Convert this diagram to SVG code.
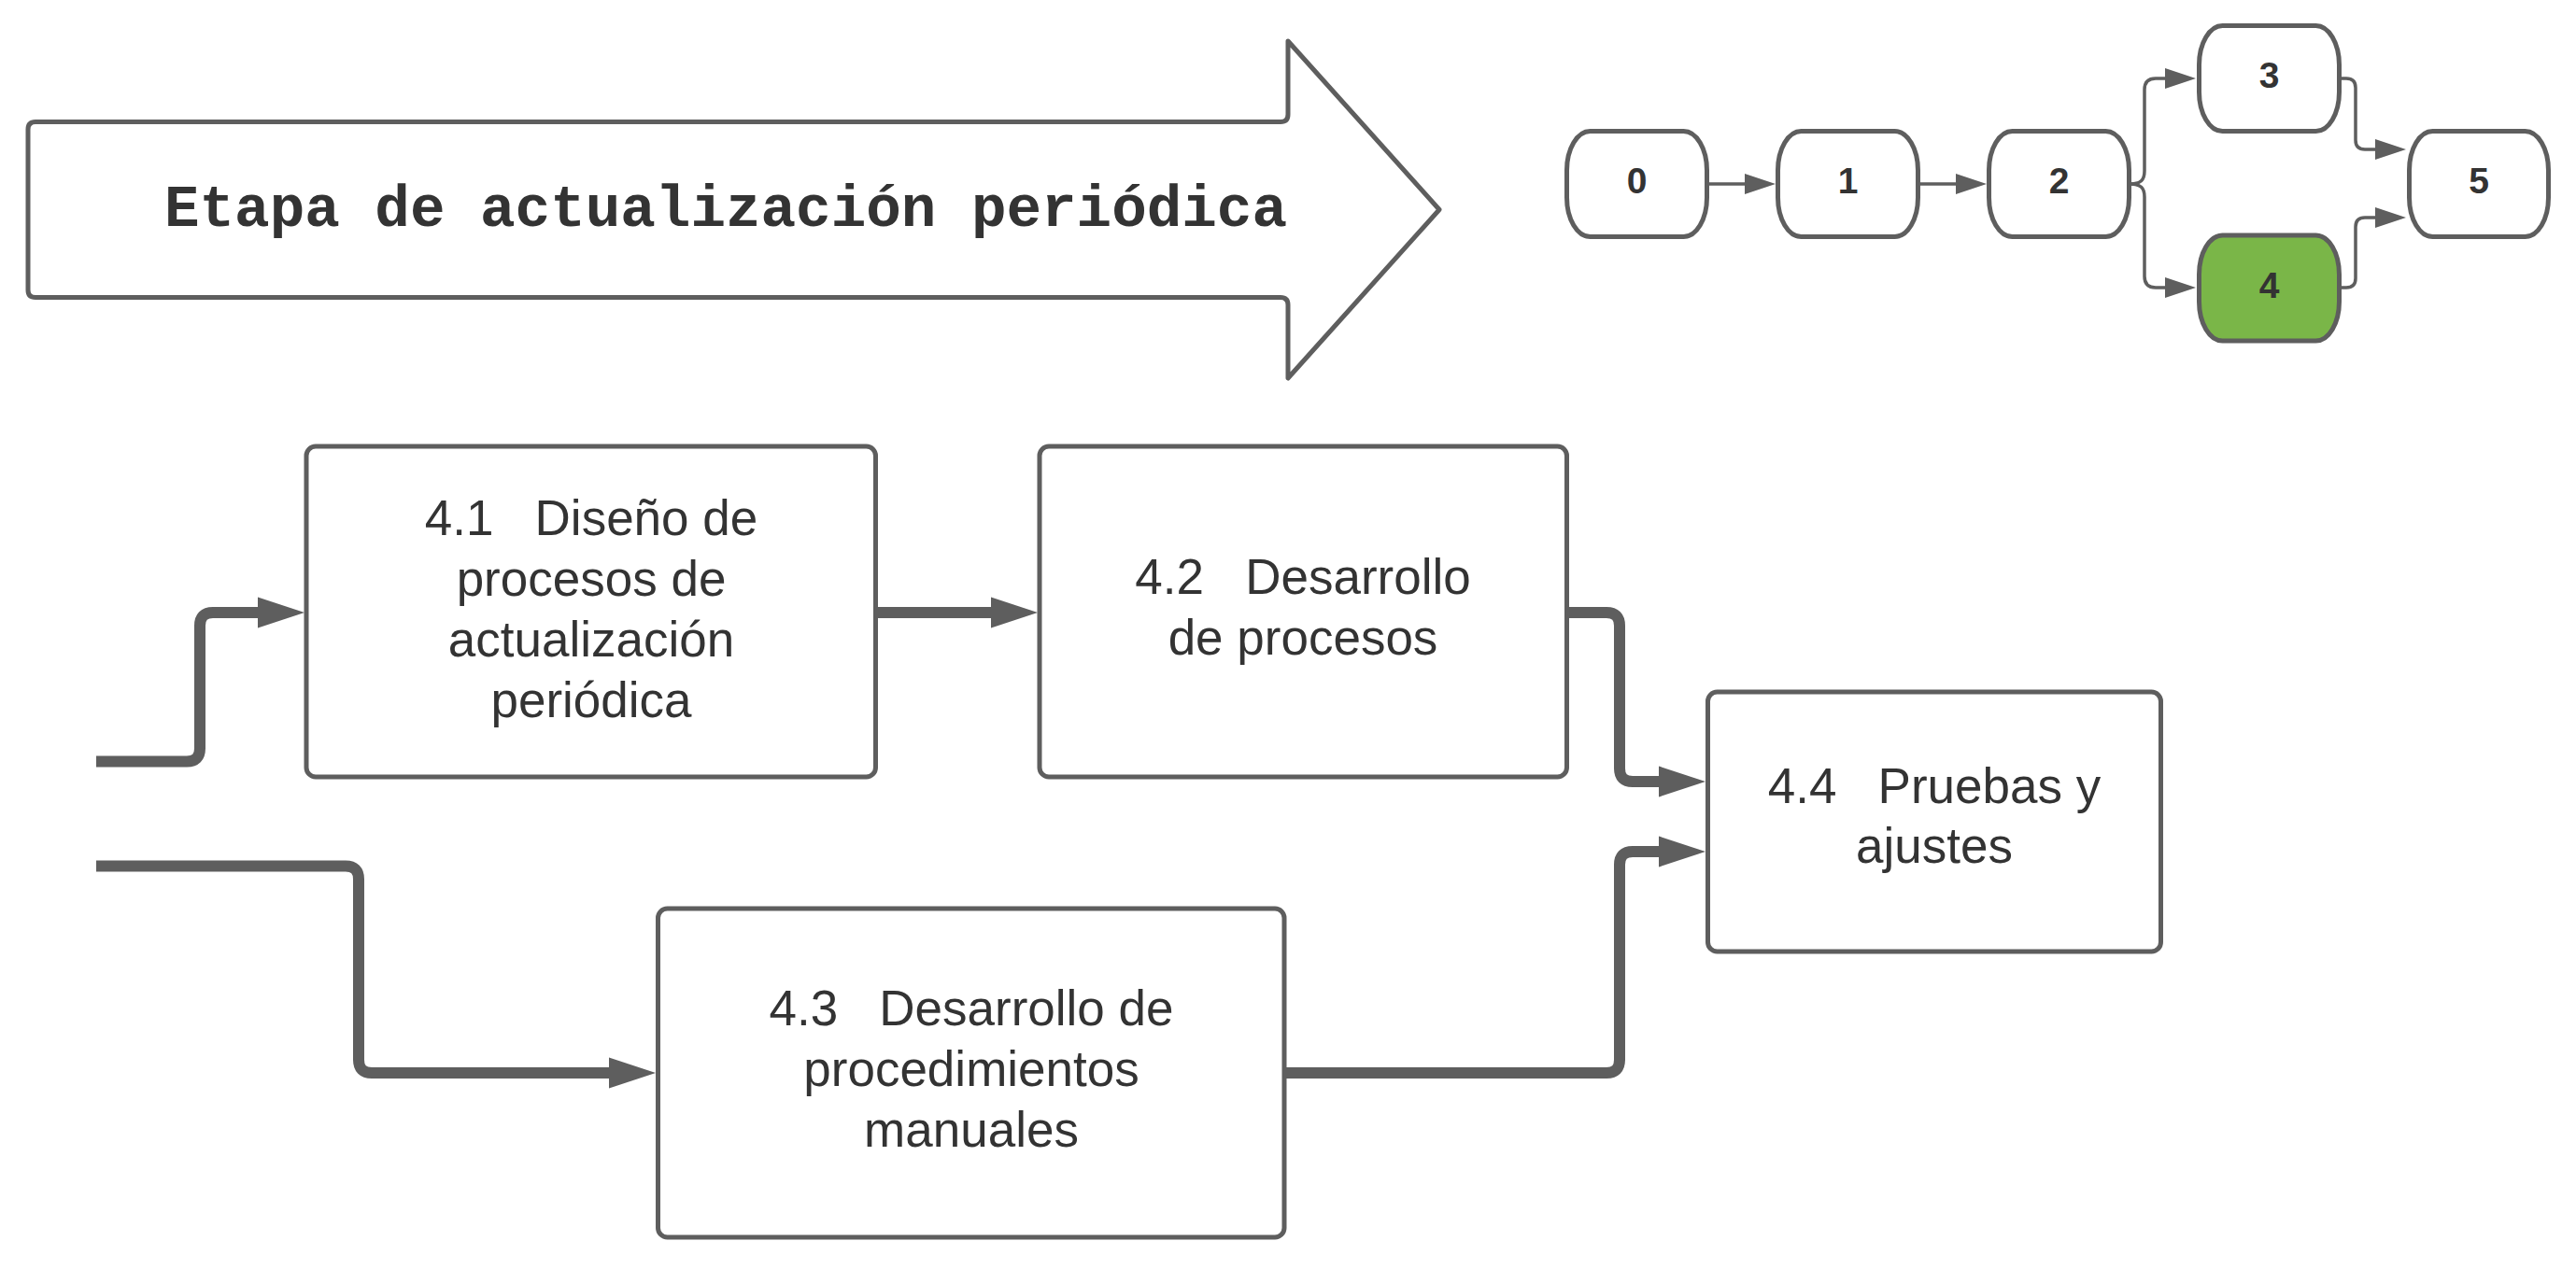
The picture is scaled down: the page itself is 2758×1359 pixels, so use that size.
<svg xmlns="http://www.w3.org/2000/svg" width="2758" height="1359" viewBox="0 0 2758 1359">
<style>
.bg{fill:#ffffff}
.shape{fill:#ffffff;stroke:#5e5e5e;stroke-width:5;stroke-linejoin:round}
.green{fill:#7ab648}
.title{font-family:"Liberation Mono","Courier New",monospace;font-weight:bold;font-size:62.6px;fill:#333333}
.lbl{font-family:"Liberation Sans",Arial,sans-serif;font-size:53px;fill:#333333;text-anchor:middle}
.num{font-family:"Liberation Sans",Arial,sans-serif;font-weight:bold;font-size:39px;fill:#333333;text-anchor:middle}
.thick{fill:none;stroke:#5e5e5e;stroke-width:12;marker-end:url(#bigArrow)}
.thin{fill:none;stroke:#5e5e5e;stroke-width:3.5;marker-end:url(#smallArrow)}
</style>
<defs>
<marker id="bigArrow" markerUnits="userSpaceOnUse" markerWidth="50" markerHeight="33" refX="5" refY="16.5" orient="auto" overflow="visible">
<path d="M0,0 L50,16.5 L0,33 Z" fill="#5e5e5e"/>
</marker>
<marker id="smallArrow" markerUnits="userSpaceOnUse" markerWidth="33" markerHeight="22" refX="3" refY="11" orient="auto" overflow="visible">
<path d="M0,0 L33,11 L0,22 Z" fill="#5e5e5e"/>
</marker>
</defs>
<rect class="bg" x="0" y="0" width="2758" height="1359"/>

<g id="title-arrow">
<path class="shape" d="M38,130.5 H1371 Q1379,130.5 1379,122.5 V44 L1541,224.5 L1379,405 V326.5 Q1379,318.5 1371,318.5 H38 Q30,318.5 30,310.5 V138.5 Q30,130.5 38,130.5 Z"/>
<text class="title" x="777" y="242" text-anchor="middle">Etapa de actualización periódica</text>
</g>

<g id="connectors">
<path class="thin" d="M1830,197 H1871"/>
<path class="thin" d="M2055,197 H2097"/>
<path class="thin" d="M2280,197 C2292,197 2296,193 2296,183 V96 Q2296,84 2308,84 H2321"/>
<path class="thin" d="M2280,197 C2292,197 2296,201 2296,211 V296 Q2296,308 2308,308 H2321"/>
<path class="thin" d="M2505,84 H2512 Q2522,84 2522,94 V150 Q2522,160 2532,160 H2546"/>
<path class="thin" d="M2505,308 H2512 Q2522,308 2522,298 V243 Q2522,233 2532,233 H2546"/>

<path class="thick" d="M103,815.5 H200 Q214,815.5 214,801.5 V670 Q214,656 228,656 H281"/>
<path class="thick" d="M940,656 H1066"/>
<path class="thick" d="M1680,656 H1720 Q1734,656 1734,670 V823 Q1734,837 1748,837 H1781"/>
<path class="thick" d="M103,927.5 H370 Q384,927.5 384,941.5 V1135 Q384,1149 398,1149 H657"/>
<path class="thick" d="M1377,1149 H1720 Q1734,1149 1734,1135 V926 Q1734,912 1748,912 H1781"/>
</g>

<g id="node-0">
<rect class="shape" x="1677.5" y="140.5" width="150" height="113" rx="25" ry="42"/>
<text class="num" x="1752.5" y="207">0</text>
</g>
<g id="node-1">
<rect class="shape" x="1903.5" y="140.5" width="150" height="113" rx="25" ry="42"/>
<text class="num" x="1978.5" y="207">1</text>
</g>
<g id="node-2">
<rect class="shape" x="2129.5" y="140.5" width="150" height="113" rx="25" ry="42"/>
<text class="num" x="2204.5" y="207">2</text>
</g>
<g id="node-3">
<rect class="shape" x="2354.5" y="27.5" width="150" height="113" rx="25" ry="42"/>
<text class="num" x="2429.5" y="94">3</text>
</g>
<g id="node-4">
<rect class="shape green" x="2354.5" y="252" width="150" height="113" rx="25" ry="42"/>
<text class="num" x="2429.5" y="318.5">4</text>
</g>
<g id="node-5">
<rect class="shape" x="2579.5" y="140.5" width="149" height="113" rx="25" ry="42"/>
<text class="num" x="2654" y="207">5</text>
</g>

<g id="box-4-1">
<rect class="shape" x="328" y="478" width="609.5" height="354" rx="10"/>
<text class="lbl" xml:space="preserve"><tspan x="633" y="573">4.1   Diseño de</tspan><tspan x="633" y="638">procesos de</tspan><tspan x="633" y="703">actualización</tspan><tspan x="633" y="768">periódica</tspan></text>
</g>
<g id="box-4-2">
<rect class="shape" x="1113" y="478" width="564.5" height="354" rx="10"/>
<text class="lbl" xml:space="preserve"><tspan x="1395" y="636">4.2   Desarrollo</tspan><tspan x="1395" y="701">de procesos</tspan></text>
</g>
<g id="box-4-3">
<rect class="shape" x="704.5" y="973" width="670.5" height="352" rx="10"/>
<text class="lbl" xml:space="preserve"><tspan x="1040" y="1098">4.3   Desarrollo de</tspan><tspan x="1040" y="1163">procedimientos</tspan><tspan x="1040" y="1228">manuales</tspan></text>
</g>
<g id="box-4-4">
<rect class="shape" x="1828.5" y="741" width="485" height="278" rx="10"/>
<text class="lbl" xml:space="preserve"><tspan x="2071" y="860">4.4   Pruebas y</tspan><tspan x="2071" y="924">ajustes</tspan></text>
</g>
</svg>
